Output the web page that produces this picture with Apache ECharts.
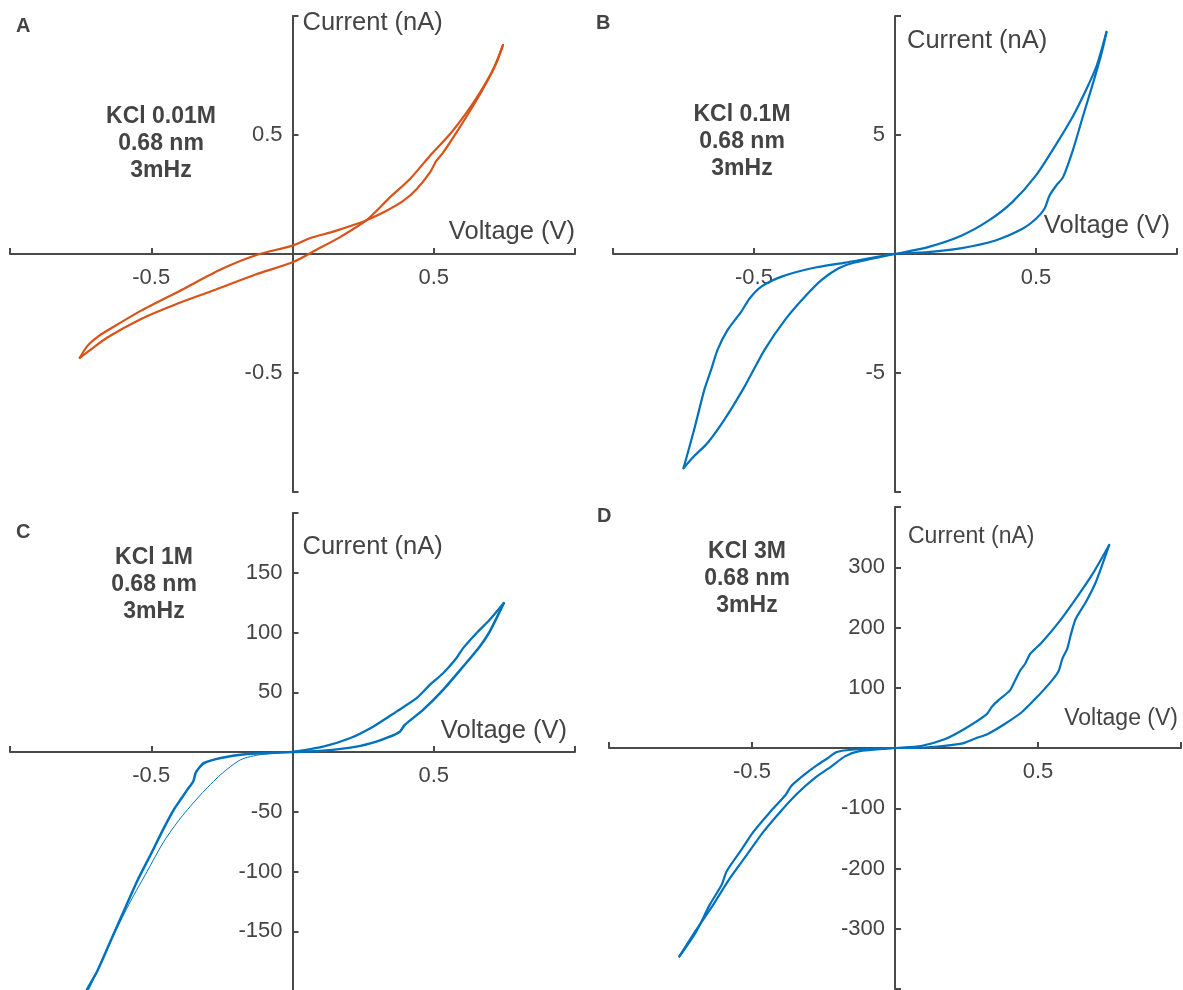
<!DOCTYPE html>
<html>
<head>
<meta charset="utf-8">
<script src="https://cdn.jsdelivr.net/npm/echarts@6/dist/echarts.min.js"></script>
<style>
html,body{margin:0;padding:0;background:#fff;}
#chart{width:1183px;height:990px;}
</style>
</head>
<body>
<div id="chart"></div>
<script>
// ---------------- DATA ----------------
// Panel A: KCl 0.01M  [Voltage (V), Current (nA)]
const A_branch1 = [[-0.753,-0.436],[-0.725,-0.385],[-0.684,-0.343],[-0.642,-0.312],[-0.536,-0.238],[-0.393,-0.151],[-0.251,-0.063],[-0.127,-0.004],[0,0.035],[0.061,0.066],[0.144,0.094],[0.226,0.126],[0.262,0.142],[0.333,0.182],[0.392,0.223],[0.439,0.272],[0.486,0.342],[0.509,0.391],[0.533,0.426],[0.580,0.510],[0.639,0.622],[0.686,0.719],[0.722,0.803],[0.745,0.878]];
const A_branch2 = [[-0.753,-0.436],[-0.719,-0.406],[-0.654,-0.350],[-0.536,-0.273],[-0.417,-0.213],[-0.275,-0.151],[-0.133,-0.087],[0,-0.035],[0.085,0.018],[0.167,0.070],[0.262,0.142],[0.344,0.237],[0.415,0.314],[0.486,0.412],[0.557,0.503],[0.616,0.594],[0.663,0.677],[0.710,0.775],[0.745,0.878]];

// Panel B: KCl 0.1M
const B_branch1 = [[-0.750,-9.0],[-0.712,-7.37],[-0.676,-5.70],[-0.652,-4.86],[-0.629,-4.02],[-0.593,-3.18],[-0.545,-2.42],[-0.515,-1.86],[-0.474,-1.37],[-0.402,-0.95],[-0.295,-0.60],[-0.176,-0.36],[0,0],[0.117,0.08],[0.237,0.25],[0.356,0.57],[0.452,1.06],[0.500,1.48],[0.530,1.90],[0.548,2.46],[0.572,2.88],[0.596,3.23],[0.632,4.41],[0.667,5.81],[0.703,7.21],[0.733,8.46],[0.750,9.33]];
const B_branch2 = [[-0.750,-9.0],[-0.712,-8.49],[-0.664,-7.93],[-0.605,-6.96],[-0.533,-5.56],[-0.462,-4.02],[-0.390,-2.77],[-0.319,-1.79],[-0.260,-1.09],[-0.200,-0.60],[-0.150,-0.38],[0,0],[0.117,0.29],[0.237,0.78],[0.333,1.41],[0.416,2.18],[0.500,3.30],[0.572,4.62],[0.632,5.81],[0.679,6.93],[0.715,7.91],[0.750,9.33]];

// Panel C: KCl 1M
const C_branch1 = [[-0.75,-210],[-0.727,-198.6],[-0.691,-183.3],[-0.644,-158.2],[-0.597,-133.1],[-0.550,-108.1],[-0.502,-85.8],[-0.455,-63.5],[-0.420,-48.2],[-0.396,-39.8],[-0.372,-31.5],[-0.351,-24.5],[-0.343,-17.5],[-0.331,-13.4],[-0.313,-9.2],[-0.254,-5.0],[-0.160,-1.7],[0,0],[0.108,1.1],[0.226,4.5],[0.297,8.7],[0.344,12.8],[0.380,17.0],[0.397,22.6],[0.462,35.2],[0.533,52.0],[0.604,71.5],[0.663,88.3],[0.698,100.8],[0.748,124.6]];
const C_branch2_neg = [[-0.75,-212],[-0.721,-198.6],[-0.680,-177.7],[-0.632,-152.6],[-0.573,-124.8],[-0.514,-99.7],[-0.455,-74.7],[-0.396,-55.2],[-0.325,-35.7],[-0.254,-18.9],[-0.183,-6.4],[-0.112,-2.2],[0,0]];
const C_branch2_pos = [[0,0],[0.108,4.5],[0.203,11.5],[0.285,21.2],[0.368,33.8],[0.439,45.0],[0.486,56.1],[0.533,65.9],[0.580,78.5],[0.604,86.9],[0.651,99.4],[0.698,110.6],[0.748,124.6]];

// Panel D: KCl 3M
const D_branch1 = [[-0.754,-346],[-0.695,-304.7],[-0.648,-260.4],[-0.606,-227.1],[-0.589,-205.0],[-0.541,-171.7],[-0.494,-138.5],[-0.435,-105.3],[-0.382,-77.6],[-0.364,-63.7],[-0.317,-44.3],[-0.270,-27.7],[-0.234,-16.6],[-0.204,-6.6],[-0.151,-2.8],[-0.080,-1.1],[0,0],[0.114,1.1],[0.232,7.2],[0.279,15.5],[0.326,23.8],[0.385,40.3],[0.444,59.7],[0.502,87.3],[0.549,112.2],[0.573,128.7],[0.585,148.1],[0.602,164.6],[0.614,186.7],[0.632,214.4],[0.667,242.0],[0.702,275.1],[0.749,337.0]];
const D_branch2 = [[-0.754,-346],[-0.695,-301.9],[-0.636,-260.4],[-0.577,-216.1],[-0.518,-177.3],[-0.459,-138.5],[-0.400,-105.3],[-0.340,-74.8],[-0.281,-49.9],[-0.222,-30.5],[-0.175,-13.9],[-0.128,-5.5],[0,0],[0.091,3.3],[0.173,14.4],[0.244,32.0],[0.320,55.8],[0.338,68.0],[0.361,79.0],[0.402,95.6],[0.420,112.2],[0.438,128.7],[0.455,139.8],[0.473,156.4],[0.514,175.7],[0.573,208.8],[0.632,247.5],[0.691,289.0],[0.749,337.0]];

// Tick labels
const xTickLabels = [-0.5, 0.5];
const A_yTickLabels = [-0.5, 0.5];
const B_yTickLabels = [-5, 5];
const C_yTickLabels = [-150, -100, -50, 50, 100, 150];
const D_yTickLabels = [-300, -200, -100, 100, 200, 300];

// Axis ranges [min, max, interval]
const A_yRange = [-1, 1, 0.5];
const B_yRange = [-10, 10, 5];
const C_yRange = [-200, 200, 50];
const D_yRange = [-400, 400, 100];
const xRange = [-1, 1, 0.5];

const panelLetters = ['A', 'B', 'C', 'D'];
const panelNotes = ['KCl 0.01M\n0.68 nm\n3mHz', 'KCl 0.1M\n0.68 nm\n3mHz', 'KCl 1M\n0.68 nm\n3mHz', 'KCl 3M\n0.68 nm\n3mHz'];
const xName = 'Voltage (V)';
const yName = 'Current (nA)';

// ---------------- STYLE / LAYOUT ----------------
const FONT = '"Liberation Sans", Arial, Helvetica, sans-serif';
const AXIS_COLOR = '#4a4a4a';
const TEXT_COLOR = '#444444';
const ORANGE = '#D95319';
const BLUE = '#0072BD';

const grids = [
  {left: 10, top: 16, width: 565, height: 476},
  {left: 613, top: 16, width: 564, height: 476},
  {left: 10, top: 513, width: 565, height: 478},
  {left: 609, top: 507, width: 572, height: 482}
];
const yRanges = [A_yRange, B_yRange, C_yRange, D_yRange];
const yLabelSets = [A_yTickLabels, B_yTickLabels, C_yTickLabels, D_yTickLabels];
// axis-name placement per panel
const yNameGap = [-7, -25, -34, -30];
const yNamePadLeft = [10, 12, 10, 13];
const yNameSize = [25.5, 25.5, 25.5, 23];
const xNamePad = [[0, 0, 9, 0], [0, 7, 15, 0], [0, 8, 8, 0], [0, 3, 18, 0]];
const xNameSize = [25.5, 25.5, 25.5, 23];
const notePos = [[161, 103], [742, 101], [154, 544], [747, 538]];
const letterPos = [[16, 16], [596, 13], [16, 522], [597, 506]];

function labelFmt(list) {
  return function (v) {
    return list.some(t => Math.abs(t - v) < 1e-9) ? String(v) : '';
  };
}

// place each axis through the origin of the other axis (axes cross at 0)
function zeroOffset(range, size) {
  return -size * (0 - range[0]) / (range[1] - range[0]);
}

const xAxes = [], yAxes = [];
for (let i = 0; i < 4; i++) {
  const g = grids[i];
  const yr = yRanges[i];
  xAxes.push({
    gridIndex: i, type: 'value', position: 'bottom', min: xRange[0], max: xRange[1], interval: xRange[2],
    offset: zeroOffset(yr, g.height),
    name: xName, nameLocation: 'end', nameGap: 0,
    nameTextStyle: {color: TEXT_COLOR, fontFamily: FONT, fontSize: xNameSize[i], align: 'right', verticalAlign: 'bottom', padding: xNamePad[i]},
    axisLine: {show: true, onZero: false, lineStyle: {color: AXIS_COLOR, width: 2}},
    axisTick: {show: true, inside: true, length: 6, lineStyle: {color: AXIS_COLOR, width: 2}},
    axisLabel: {show: true, margin: 13, color: TEXT_COLOR, fontFamily: FONT, fontSize: 22, formatter: labelFmt(xTickLabels)},
    splitLine: {show: false}
  });
  yAxes.push({
    gridIndex: i, type: 'value', position: 'left', min: yr[0], max: yr[1], interval: yr[2],
    offset: zeroOffset(xRange, g.width),
    name: yName, nameLocation: 'end', nameGap: yNameGap[i],
    nameTextStyle: {color: TEXT_COLOR, fontFamily: FONT, fontSize: yNameSize[i], align: 'left', verticalAlign: 'middle', padding: [0, 0, 0, yNamePadLeft[i]]},
    axisLine: {show: true, onZero: false, lineStyle: {color: AXIS_COLOR, width: 2}},
    axisTick: {show: true, inside: true, length: 6, lineStyle: {color: AXIS_COLOR, width: 2}},
    axisLabel: {show: true, margin: 10, color: TEXT_COLOR, fontFamily: FONT, fontSize: 22, formatter: labelFmt(yLabelSets[i])},
    splitLine: {show: false}
  });
}

function lineSeries(idx, data, color, width) {
  return {
    type: 'line', xAxisIndex: idx, yAxisIndex: idx, data: data,
    showSymbol: false, symbol: 'none', smooth: 0.25, clip: true,
    lineStyle: {color: color, width: width, cap: 'round', join: 'round'},
    emphasis: {disabled: true}, silent: true
  };
}

const series = [
  lineSeries(0, A_branch1, ORANGE, 2.2),
  lineSeries(0, A_branch2, ORANGE, 2.2),
  lineSeries(1, B_branch1, BLUE, 2.2),
  lineSeries(1, B_branch2, BLUE, 2.2),
  lineSeries(2, C_branch1, BLUE, 2.5),
  lineSeries(2, C_branch2_neg, BLUE, 1),
  lineSeries(2, C_branch2_pos, BLUE, 2.3),
  lineSeries(3, D_branch1, BLUE, 2.2),
  lineSeries(3, D_branch2, BLUE, 2.2)
];

const graphics = [];
for (let i = 0; i < 4; i++) {
  graphics.push({
    type: 'text', x: notePos[i][0], y: notePos[i][1], silent: true,
    style: {text: panelNotes[i], fill: TEXT_COLOR, font: 'bold 23px ' + FONT, align: 'center', verticalAlign: 'top', lineHeight: 27}
  });
  graphics.push({
    type: 'text', x: letterPos[i][0], y: letterPos[i][1], silent: true,
    style: {text: panelLetters[i], fill: TEXT_COLOR, font: 'bold 20px ' + FONT, align: 'left', verticalAlign: 'top'}
  });
}

const chart = echarts.init(document.getElementById('chart'), null, {renderer: 'canvas'});
chart.setOption({
  animation: false,
  backgroundColor: '#ffffff',
  grid: grids.map(g => Object.assign({containLabel: false, outerBoundsMode: 'none'}, g)),
  xAxis: xAxes,
  yAxis: yAxes,
  series: series,
  graphic: graphics
});
</script>
</body>
</html>
